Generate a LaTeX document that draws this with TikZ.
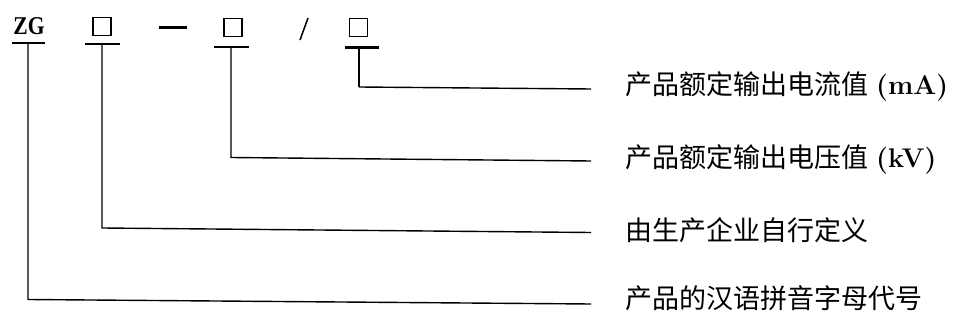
\documentclass[tikz,border=0pt]{standalone}
\usepackage{fontspec}
\usepackage{graphicx}
\newfontfamily\cjk{Noto Sans CJK SC}
\newfontfamily\serifb{Liberation Serif}
\begin{document}
\begin{tikzpicture}[x=1pt,y=-1pt,
  lead/.style={line width=1.4pt,black},
  bar/.style={line width=2pt,black},
  code/.style={draw,line width=1.1pt,minimum width=18pt,minimum height=18pt,inner sep=0pt},
  lbl/.style={anchor=west,inner sep=0pt,text height=0.88em,text depth=0.12em,font=\cjk\fontsize{27}{27}\selectfont}]
\useasboundingbox[fill=white] (0,0) rectangle (958,320);
% code parts
\node[inner sep=0pt,anchor=center,font=\serifb\bfseries\fontsize{27}{27}\selectfont] (zg) at (29,26.5) {\scalebox{0.8}[0.95]{ZG}};
\node[code] (b1) at (102,26.5) {};
\node[code] (b2) at (233,27.5) {};
\node[code] (b3) at (358.5,27.5) {};
\coordinate (d1) at (159,27.5); \coordinate (d2) at (187,27.5);
\draw[line width=2.6pt] (d1) -- (d2);
\coordinate (s1) at (308,18); \coordinate (s2) at (300,40);
\draw[line width=1.5pt] (s1) -- (s2);
% underbars
\coordinate (u0l) at (12,43.5); \coordinate (u0r) at (45,43.5);
\coordinate (u1l) at (85,44); \coordinate (u1r) at (120,44);
\coordinate (u2l) at (214,47); \coordinate (u2r) at (249,47);
\coordinate (u3l) at (345,48); \coordinate (u3r) at (379,48);
\draw[bar] (u0l) -- (u0r);
\draw[bar] (u1l) -- (u1r);
\draw[bar] (u2l) -- (u2r);
\draw[line width=3pt] (u3l) -- (u3r);
% stems and corners
\coordinate (t0) at (28,43.5); \coordinate (c0) at (28,299.5); \coordinate (e0) at (591,304);
\coordinate (t1) at (102,44); \coordinate (c1) at (102,228); \coordinate (e1) at (591,232.5);
\coordinate (t2) at (231,47); \coordinate (c2) at (231,157.5); \coordinate (e2) at (591,161);
\coordinate (t3) at (359,48); \coordinate (c3) at (359,87); \coordinate (e3) at (591,89);
\draw[lead] (t0) -- (c0) -- (e0);
\draw[lead] (t1) -- (c1) -- (e1);
\draw[lead] (t2) -- (c2) -- (e2);
\draw[line width=2.2pt] (t3) -- (c3);
\draw[lead] (c3) -- (e3);
% labels
\node[lbl] (l3) at (625,91) {产品额定输出电流值\kern8pt{\rmfamily\bfseries (mA)}};
\node[lbl] (l2) at (625,163.5) {产品额定输出电压值\kern8pt{\rmfamily\bfseries (kV)}};
\node[lbl] (l1) at (625,236.5) {由生产企业自行定义};
\node[lbl] (l0) at (625,305) {产品的汉语拼音字母代号};
\end{tikzpicture}
\end{document}
